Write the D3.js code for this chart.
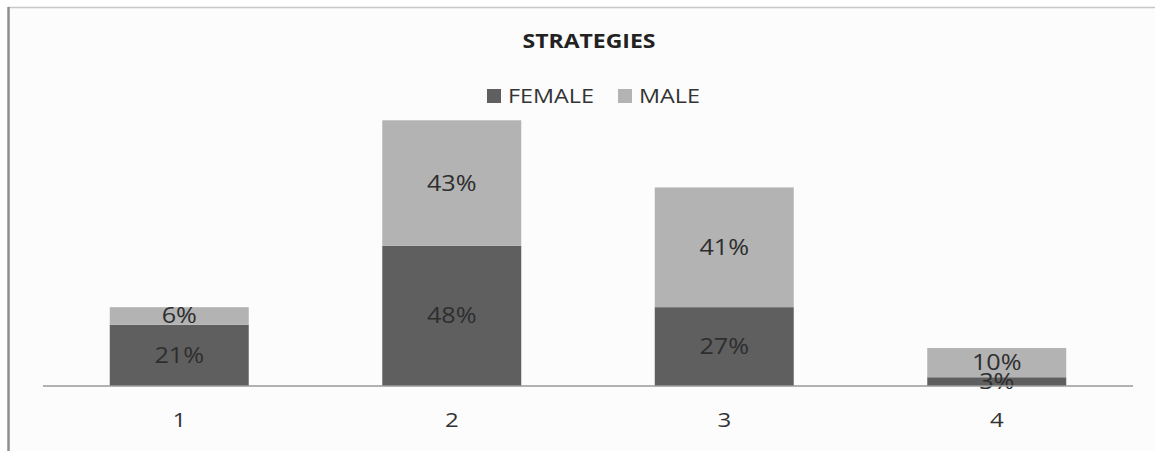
<!DOCTYPE html>
<html>
<head>
<meta charset="utf-8">
<script src="https://cdn.jsdelivr.net/npm/d3@7"></script>
<style>
  html, body { margin: 0; padding: 0; background: #ffffff; }
  svg { display: block; }
</style>
</head>
<body>
<svg id="chart" width="1155" height="451"></svg>
<script>
const categories = ["1", "2", "3", "4"];
const seriesNames = ["FEMALE", "MALE"];
const femaleValues = [21, 48, 27, 3];
const maleValues = [6, 43, 41, 10];
const chartTitle = "STRATEGIES";

const colors = { FEMALE: "#5f5f5f", MALE: "#b3b3b3" };
const W = 1155, H = 451;
const SX = 1.2; // horizontal stretch of the source image's type
const svg = d3.select("#chart");

// frame
svg.append("rect").attr("x", 9).attr("y", 8).attr("width", W - 9).attr("height", H - 8).attr("fill", "#fcfcfc");
svg.append("line").attr("x1", 8).attr("x2", W).attr("y1", 7.5).attr("y2", 7.5).attr("stroke", "#c8c8c8").attr("stroke-width", 1.5);
svg.append("line").attr("x1", 8.5).attr("x2", 8.5).attr("y1", 7).attr("y2", H).attr("stroke", "#8f8f8f").attr("stroke-width", 2.5);

const x = d3.scaleBand().domain(categories).range([43, 1133]).paddingInner(0.49).paddingOuter(0.245);
const y = d3.scaleLinear().domain([0, 100]).range([386, 94]);

const rows = categories.map((c, i) => ({ cat: c, FEMALE: femaleValues[i], MALE: maleValues[i] }));
const stacked = d3.stack().keys(seriesNames)(rows);

const font = "'Open Sans', sans-serif";
const g = svg.append("g");
stacked.forEach(layer => {
  g.selectAll(null).data(layer).enter().append("rect")
    .attr("x", d => x(d.data.cat))
    .attr("width", x.bandwidth())
    .attr("y", d => y(d[1]))
    .attr("height", d => y(d[0]) - y(d[1]))
    .attr("fill", colors[layer.key]);
});

// axis
const axis = svg.append("g").attr("transform", "translate(0,386)")
  .call(d3.axisBottom(x).tickSize(0).tickPadding(27));
axis.select(".domain").attr("stroke", "#9a9a9a").attr("stroke-width", 1.5)
  .attr("d", "M43,0H1133");
axis.selectAll("text").attr("font-family", font).attr("font-size", 20).attr("fill", "#333")
  .attr("transform", `scale(${SX},1)`);

// labels
stacked.forEach(layer => {
  g.selectAll(null).data(layer).enter().append("text")
    .attr("transform", d => `translate(${x(d.data.cat) + x.bandwidth() / 2},${(y(d[0]) + y(d[1])) / 2}) scale(${SX},1)`)
    .attr("dy", "0.36em")
    .attr("text-anchor", "middle")
    .attr("font-family", font).attr("font-size", 21).attr("fill", "#2e2e2e")
    .text(d => (d[1] - d[0]) + "%");
});

// title
svg.append("text").attr("transform", `translate(589,48) scale(1.15,1)`).attr("text-anchor", "middle")
  .attr("font-family", font).attr("font-weight", "bold").attr("font-size", 20).attr("fill", "#222")
  .text(chartTitle);

// legend
const legendX = [487, 618];
seriesNames.forEach((s, i) => {
  const lg = svg.append("g").attr("transform", `translate(${legendX[i]},96)`);
  lg.append("rect").attr("x", 0).attr("y", -7).attr("width", 14).attr("height", 14).attr("fill", colors[s]);
  lg.append("text").attr("transform", `translate(21,0) scale(${SX},1)`).attr("dy", "0.36em")
    .attr("font-family", font).attr("font-size", 19.5).attr("fill", "#333").text(s);
});
</script>
</body>
</html>
